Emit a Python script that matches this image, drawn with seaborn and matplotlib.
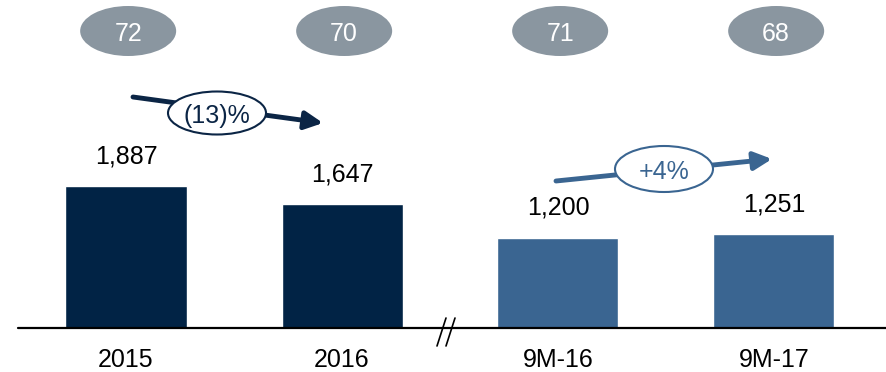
"""
Bar chart with headcount bubbles and growth arrows
"""

import matplotlib
matplotlib.use('Agg')
import matplotlib.pyplot as plt
from matplotlib.patches import Ellipse
import seaborn as sns

periods = ['2015', '2016', '9M-16', '9M-17']
values = [1887, 1647, 1200, 1251]
bubble_values = [72, 70, 71, 68]
growth_labels = ['(13)%', '+4%']
bar_colors = ['#012345', '#012345', '#3A6591', '#3A6591']
growth_colors = ['#0B2545', '#3A6591']

sns.set_theme(style='white')
plt.rcParams['font.family'] = ['Liberation Sans', 'DejaVu Sans']

W, H = 887, 372
fig = plt.figure(figsize=(W / 100, H / 100), dpi=100)
fig.patch.set_facecolor('white')

# pixel layout: bar centres 126 + 216*i, baseline at y=328 px, 13.3 units per px
px_per_cat = 216.0
x0_px = 126.0
base_px = 328.0
units_per_px = 13.3

ax = fig.add_axes([0, (H - base_px) / H, 1, base_px / H])
ax.set_facecolor('white')


def px_x(px):
    return (px - x0_px) / px_per_cat


def px_y(py):
    return (base_px - py) * units_per_px


sns.barplot(x=periods, y=values, hue=periods, palette=bar_colors, legend=False,
            width=121 / px_per_cat, saturation=1, ax=ax)

ax.set_xlim(px_x(0), px_x(W))
ax.set_ylim(0, base_px * units_per_px)
for s in ax.spines.values():
    s.set_visible(False)
ax.set_yticks([])
ax.set_xlabel('')
ax.set_ylabel('')
ax.tick_params(axis='x', length=0, pad=14.5, labelsize=18, labelcolor='black')

# baseline
ax.plot([px_x(18), px_x(W)], [0, 0], color='black', lw=1.6, clip_on=False, zorder=5)
# axis break marks
for dx in (0, 9):
    ax.plot([px_x(437 + dx), px_x(446 + dx)], [px_y(346), px_y(318)],
            color='black', lw=1.2, clip_on=False, zorder=6)

# value labels
for i, v in enumerate(values):
    ax.annotate(f'{v:,}', (i, v), xytext=(0, 16.5), textcoords='offset points',
                ha='center', va='baseline', fontsize=18, color='black')

# grey bubbles on top
for i, n in enumerate(bubble_values):
    ax.add_patch(Ellipse((i + 0.01, px_y(31)), 96 / px_per_cat, 50 * units_per_px,
                         facecolor='#8A96A0', edgecolor='none', clip_on=False))
    ax.text(i + 0.01, px_y(31), str(n), ha='center', va='center_baseline',
            fontsize=18, color='white')

# growth arrows
arrows = [((133, 97), (323, 123), (217, 113), 43),
          ((556, 181), (772, 159), (664, 169), 46)]
for (start, end, mid, eh), label, col in zip(arrows, growth_labels, growth_colors):
    ax.annotate('', xy=(px_x(end[0]), px_y(end[1])),
                xytext=(px_x(start[0]), px_y(start[1])),
                arrowprops=dict(arrowstyle='-|>,head_length=0.9,head_width=0.45',
                                color=col, lw=3.5, shrinkA=0, shrinkB=0))
    ax.add_patch(Ellipse((px_x(mid[0]), px_y(mid[1])), 98 / px_per_cat, eh * units_per_px,
                         facecolor='white', edgecolor=col, lw=1.5, zorder=4))
    ax.text(px_x(mid[0]), px_y(mid[1]), label, ha='center', va='center_baseline',
            fontsize=18, color=col, zorder=5)

plt.savefig('out.png', dpi=100)
plt.close()
